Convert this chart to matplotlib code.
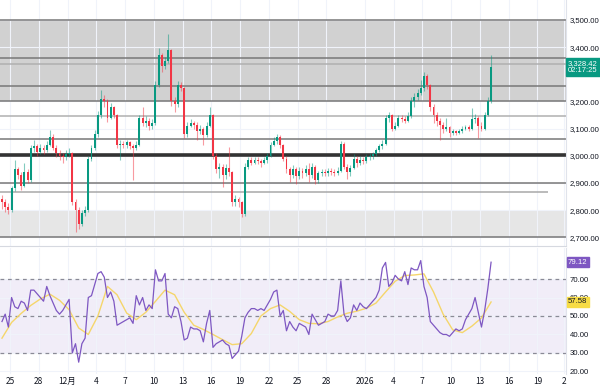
import matplotlib.pyplot as plt
import numpy as np

plt.rcParams['font.family'] = ['Liberation Sans', 'Noto Sans CJK JP']

# 8h candles starting 24 Nov
closes = [2830, 2810, 2800, 2880, 2950, 2930, 2890, 2940, 2910, 3030,
          3035, 3015, 3030, 3020, 3040, 3070, 3030, 3010, 3000, 2995,
          3005, 3010, 2830, 2800, 2750, 2790, 2800, 2990, 3030, 3080,
          3150, 3210, 3200, 3140, 3180, 3150, 3040, 3045, 3040, 3050,
          3035, 3030, 3040, 3140, 3120, 3130, 3110, 3120, 3260, 3370,
          3330, 3350, 3390, 3200, 3190, 3260, 3250, 3080, 3110, 3120,
          3115, 3090, 3100, 3075, 3110, 3150, 3000, 2950, 2960, 2930,
          2955, 2940, 2830, 2840, 2830, 2785, 2960, 2985, 2975, 2985,
          2980, 2975, 2985, 3000, 3040, 3055, 3070, 3040, 2990, 2950,
          2930, 2950, 2925, 2945, 2935, 2950, 2930, 2960, 2910, 2935,
          2940, 2935, 2945, 2940, 2935, 2945, 3045, 2960, 2940, 2955,
          2990, 2975, 2985, 2980, 2995, 3000, 3005, 3020, 3035, 3045,
          3140, 3150, 3100, 3110, 3140, 3135, 3130, 3145, 3200, 3215,
          3230, 3250, 3295, 3260, 3180, 3150, 3130, 3115, 3100, 3105,
          3085, 3090, 3085, 3090, 3100, 3105, 3100, 3135, 3140, 3110,
          3100, 3150, 3200, 3328.42]

highs = [2855, 2840, 2825, 2890, 2985, 2960, 2940, 2975, 2950, 3040,
         3060, 3045, 3045, 3040, 3055, 3095, 3080, 3040, 3020, 3010,
         3020, 3030, 3015, 2840, 2810, 2800, 2815, 3000, 3040, 3095,
         3165, 3242, 3225, 3210, 3195, 3185, 3155, 3060, 3055, 3060,
         3055, 3045, 3055, 3150, 3180, 3145, 3140, 3135, 3275, 3396,
         3380, 3365, 3450, 3395, 3215, 3275, 3270, 3255, 3125, 3135,
         3130, 3125, 3115, 3105, 3125, 3178, 3155, 3010, 2975, 2970,
         2970, 3034, 2945, 2855, 2850, 2835, 2975, 2995, 2995, 2995,
         2995, 2990, 2995, 3010, 3050, 3070, 3080, 3075, 3045, 3000,
         2960, 2965, 2960, 2960, 2955, 2965, 2975, 2975, 2965, 2945,
         2950, 2950, 2955, 2955, 2950, 2960, 3055, 3050, 2970, 2965,
         3005, 3000, 3000, 2995, 3005, 3010, 3015, 3030, 3045, 3060,
         3150, 3160, 3155, 3125, 3150, 3150, 3145, 3160, 3215, 3230,
         3245, 3280, 3310, 3300, 3265, 3190, 3160, 3140, 3125, 3140,
         3110, 3100, 3095, 3100, 3110, 3115, 3115, 3175, 3155, 3145,
         3125, 3160, 3215, 3371]

lows = [2805, 2795, 2785, 2795, 2870, 2915, 2875, 2885, 2900, 2905,
        3015, 3000, 3005, 3005, 3015, 3035, 3020, 2995, 2985, 2975,
        2985, 2995, 2820, 2720, 2730, 2740, 2780, 2795, 2980, 3020,
        3070, 3140, 3180, 3125, 3135, 3140, 3030, 2985, 3030, 3030,
        3025, 2911, 3020, 3035, 3110, 3105, 3095, 3100, 3115, 3255,
        3310, 3320, 3340, 3185, 3160, 3180, 3240, 3065, 3070, 3105,
        3100, 3060, 3080, 3040, 3070, 3105, 2990, 2935, 2920, 2886,
        2915, 2925, 2815, 2815, 2810, 2775, 2780, 2950, 2965, 2970,
        2970, 2960, 2970, 2975, 2995, 3035, 3045, 3030, 2980, 2935,
        2905, 2920, 2895, 2915, 2920, 2925, 2905, 2920, 2895, 2900,
        2925, 2925, 2925, 2930, 2925, 2930, 2940, 2950, 2915, 2925,
        2950, 2960, 2965, 2970, 2975, 2985, 2990, 3000, 3015, 3025,
        3040, 3125, 3090, 3095, 3105, 3125, 3120, 3125, 3140, 3180,
        3205, 3225, 3240, 3245, 3165, 3120, 3110, 3058, 3085, 3090,
        3070, 3075, 3075, 3080, 3085, 3095, 3090, 3095, 3120, 3065,
        3090, 3095, 3145, 3195]

opens = [2840] + closes[:-1]

rsi = [47, 51, 44, 60, 55, 54, 58, 57, 53, 64,
       64, 62, 60, 58, 66, 61, 57, 53, 51, 53,
       56, 59, 30, 35, 25, 35, 38, 60, 61, 67,
       73, 74, 71, 60, 63, 58, 45, 46, 47, 48,
       49, 46, 61, 56, 60, 53, 56, 54, 75, 69,
       69, 73, 51, 49, 55, 54, 47, 37, 38, 44,
       43, 43, 42, 36, 46, 53, 33, 35, 36, 37,
       35, 34, 27, 29, 31, 39, 49, 52, 54, 54,
       53, 54, 53, 56, 59, 63, 64, 50, 53, 42,
       47, 44, 42, 46, 45, 44, 40, 51, 48, 45,
       46, 47, 51, 50, 50, 53, 69, 51, 47, 49,
       56, 53, 57, 55, 54, 56, 58, 60, 64, 76,
       79, 66, 68, 72, 70, 69, 74, 67, 76, 75,
       75, 80, 66, 60, 47, 45, 43, 41, 40, 40,
       39, 41, 43, 42, 43, 48, 51, 54, 60, 52,
       44, 53, 65, 79.12]

# RSI moving average, one value per day
rsi_ma = [38, 46.5, 51.4, 55.7, 59.2, 61.8, 58.5, 53.4, 43.5, 40,
          50, 66, 61.5, 51.6, 48, 52, 57.9, 64, 61.5, 52,
          45, 42.7, 40, 37.2, 34.5, 35, 40.5, 50, 54, 56,
          52.5, 48, 46, 45.8, 47, 49.5, 51.5, 52.6, 54.2, 57,
          63, 68.8, 71.9, 72.2, 72.8, 63, 51, 42.5, 41, 44.5,
          49, 57.58]

tick_days = [1, 4, 7, 10, 13, 16, 19, 22, 25, 28, 31, 34, 38, 41, 44, 47, 50, 53, 56, 58.8]
tick_labels = ['25', '28', '12月', '4', '7', '10', '13', '16', '19', '22', '25', '28',
               '2026', '4', '7', '10', '13', '16', '19', '2']

price_ticks = [2700, 2800, 2900, 3000, 3100, 3200, 3400, 3500]
rsi_ticks = [20, 30, 40, 50, 60, 70]

# support / resistance levels
dark_zone = (3200, 3500)
light_zone = (2700, 2800)
grey_levels = [3500, 3359, 3258, 3200, 3062, 2900, 2700]
light_levels = [3337, 3145]
key_level = 3003
short_level = 2867
short_level_end = 57.1

last_price = 3328.42
countdown = '02:17:25'

UP = '#089981'
DOWN = '#f23645'

t = np.arange(len(closes)) / 3 + 1 / 6
o = np.array(opens)
c = np.array(closes)
up = c >= o
cols = np.where(up, UP, DOWN)

fig = plt.figure(figsize=(6, 3.9), dpi=100)
ax = fig.add_axes([0, 1 - 246 / 390, 566 / 600, 246 / 390])
ax2 = fig.add_axes([0, 1 - 374 / 390, 566 / 600, 126 / 390], sharex=ax)

xmin, xmax = -0.04, 58.98

# zones and levels
ax.axhspan(*dark_zone, color='#d1d1d1', lw=0, zorder=0)
ax.axhspan(*light_zone, color='#e6e6e6', lw=0, zorder=0)
for lv in grey_levels:
    ax.axhline(lv, color='#787878', lw=1.1, zorder=1)
for lv in light_levels:
    ax.axhline(lv, color='#b0b0b0', lw=1.1, zorder=1)
ax.axhline(key_level, color='#333333', lw=2.6, zorder=1)
ax.hlines(short_level, xmin, short_level_end, color='#a8a8a8', lw=1.1, zorder=1)

# candles
ax.vlines(t, lows, highs, colors=cols, lw=0.8, alpha=0.5, zorder=2)
body = np.where(np.abs(c - o) < 3, 3, c - o)
ax.bar(t, body, bottom=o, width=0.2, color=cols, lw=0, zorder=3)

ax.set_xlim(xmin, xmax)
ax.set_ylim(2668, 3573.6)
ax.yaxis.tick_right()
ax.set_yticks(price_ticks)
ax.yaxis.set_major_formatter(plt.FuncFormatter(lambda v, p: f'{v:,.2f}'))
ax.tick_params(axis='y', length=0, pad=2.5, labelsize=5.6, colors='#131722')
ax.tick_params(axis='x', length=0, labelbottom=False)
ax.set_xticks(tick_days)
ax.grid(color='#f0f3fa', lw=0.8, zorder=-1)
ax.set_axisbelow(True)
for s in ['top', 'left']:
    ax.spines[s].set_visible(False)
ax.spines['right'].set_color('#e0e3eb')
ax.spines['bottom'].set_color('#d6d9e0')

ax.annotate(f'{last_price:,.2f}\n{countdown}', xy=(1.0, last_price),
            xycoords=('axes fraction', 'data'), xytext=(1.5, 0), textcoords='offset points',
            ha='left', va='center', fontsize=5.5, color='white', linespacing=1.0,
            bbox=dict(boxstyle='square,pad=0.25', fc=UP, ec=UP), annotation_clip=False)

# RSI panel
ax2.axhspan(30, 70, color='#7e57c2', alpha=0.1, lw=0, zorder=0)
for lv in [70, 50, 30]:
    ax2.axhline(lv, color='#8a8a96', lw=0.9, ls=(0, (3, 3)), zorder=1)
ax2.plot(t, rsi, color='#7e57c2', lw=0.9, zorder=3)
ma_t = np.arange(len(rsi_ma)) + 1 / 6
ax2.plot(ma_t, rsi_ma, color='#f5d66b', lw=1.0, zorder=2)

ax2.set_ylim(18.6, 86.8)
ax2.yaxis.tick_right()
ax2.set_yticks(rsi_ticks)
ax2.yaxis.set_major_formatter(plt.FuncFormatter(lambda v, p: f'{v:.2f}'))
ax2.tick_params(axis='y', length=0, pad=2.5, labelsize=5.6, colors='#131722')
ax2.set_xticks(tick_days)
ax2.set_xticklabels(tick_labels, family='Noto Sans CJK JP')
ax2.tick_params(axis='x', length=0, pad=2, labelsize=6, colors='#131722')
ax2.grid(color='#f0f3fa', lw=0.8, zorder=-1)
ax2.set_axisbelow(True)
for s in ['top', 'left', 'bottom']:
    ax2.spines[s].set_visible(False)
ax2.spines['right'].set_color('#e0e3eb')

ax2.annotate(f'{rsi[-1]:.2f}', xy=(1.0, rsi[-1]), xycoords=('axes fraction', 'data'),
             xytext=(1.5, 0), textcoords='offset points', ha='left', va='center',
             fontsize=5.6, color='white',
             bbox=dict(boxstyle='square,pad=0.2', fc='#7e57c2', ec='#7e57c2'),
             annotation_clip=False, zorder=10)
ax2.annotate(f'{rsi_ma[-1]:.2f}', xy=(1.0, rsi_ma[-1]), xycoords=('axes fraction', 'data'),
             xytext=(1.5, 0), textcoords='offset points', ha='left', va='center',
             fontsize=5.6, color='#131722',
             bbox=dict(boxstyle='square,pad=0.2', fc='#f7dc45', ec='#f7dc45'),
             annotation_clip=False, zorder=10)

fig.savefig('out.png', dpi=100)
